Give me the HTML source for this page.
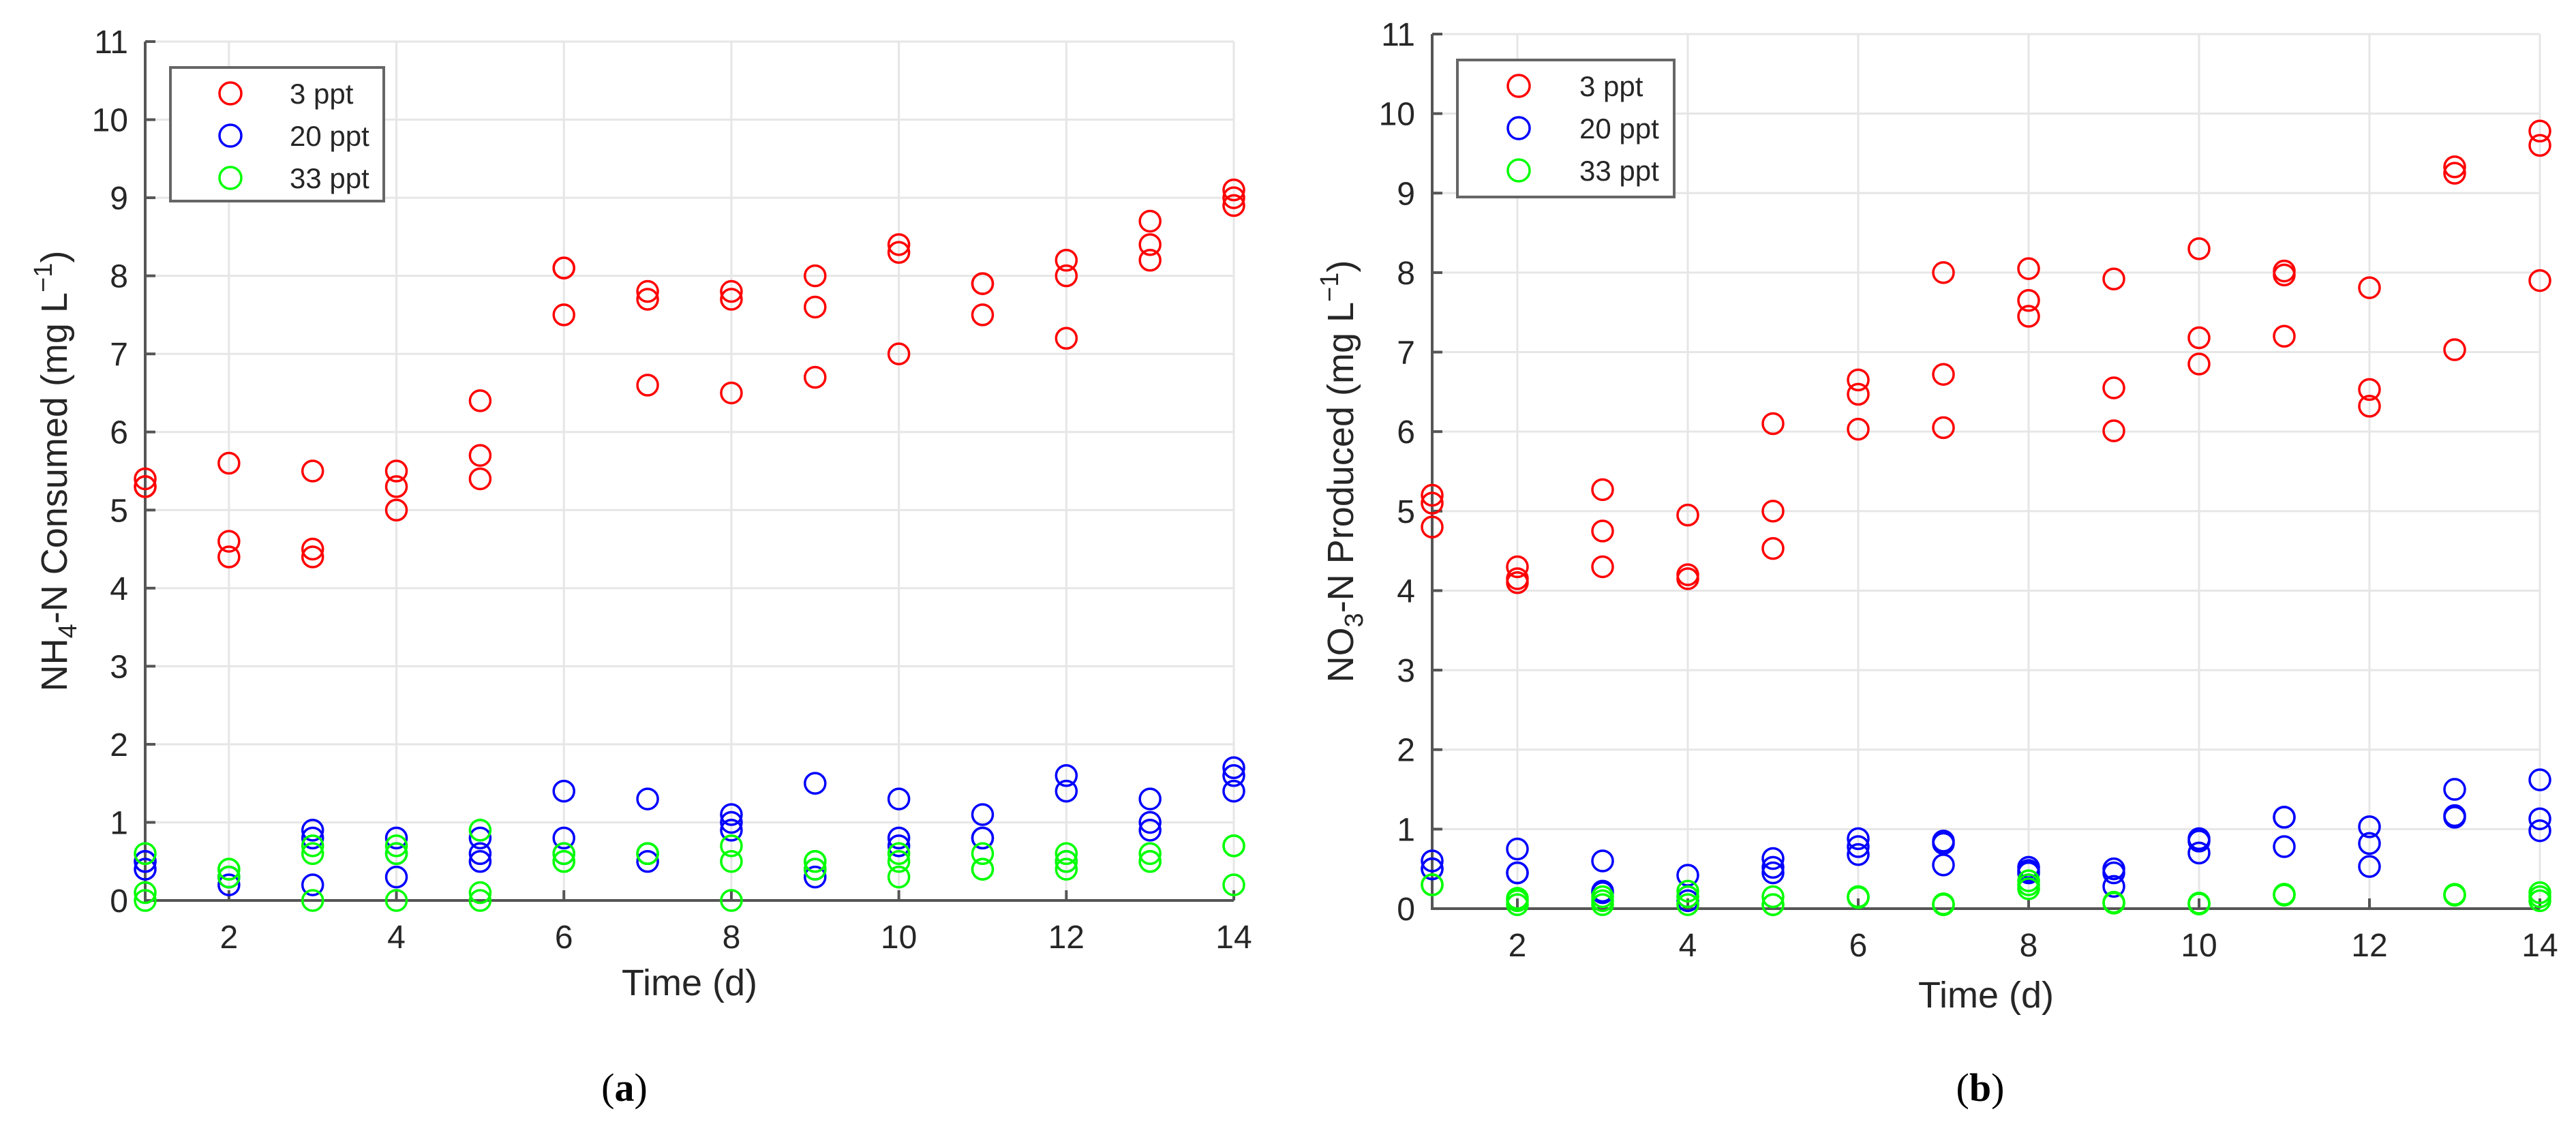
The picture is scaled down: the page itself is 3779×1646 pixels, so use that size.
<!DOCTYPE html>
<html><head><meta charset="utf-8">
<style>
html,body{margin:0;padding:0;background:#fff;}
svg{display:block;}
text{font-family:"Liberation Sans",sans-serif;fill:#262626;}
</style></head>
<body>
<svg id="fig" width="3779" height="1646" viewBox="0 0 3779 1646" xmlns="http://www.w3.org/2000/svg">
<rect width="3779" height="1646" fill="#fff"/>
<g id="panelA"></g>
<g id="panelB"></g>
<text x="916" y="1615" font-size="58" text-anchor="middle" style="font-family:'Liberation Serif',serif;fill:#000">(<tspan font-weight="bold">a</tspan>)</text>
<text x="2905" y="1615" font-size="58" text-anchor="middle" style="font-family:'Liberation Serif',serif;fill:#000">(<tspan font-weight="bold">b</tspan>)</text>
</svg>
<script>
const days = [1,2,3,4,5,6,7,8,9,10,11,12,13,14];
const xTicks = [2,4,6,8,10,12,14];
const yTicks = [0,1,2,3,4,5,6,7,8,9,10,11];
const seriesNames = ["3 ppt","20 ppt","33 ppt"];
const seriesColors = ["#ff0000","#0000ff","#00ff00"];
// Panel (a): NH4-N consumed, three replicates per day
const a3 = [[5.4,5.3,5.3],[5.6,4.6,4.4],[5.5,4.5,4.4],[5.5,5.3,5.0],[6.4,5.7,5.4],[8.1,8.1,7.5],[7.8,7.7,6.6],[7.8,7.7,6.5],[8.0,7.6,6.7],[8.4,8.3,7.0],[7.9,7.9,7.5],[8.2,8.0,7.2],[8.7,8.4,8.2],[9.1,9.0,8.9]];
const a20 = [[0.5,0.5,0.4],[0.3,0.2,0.3],[0.9,0.8,0.2],[0.8,0.6,0.3],[0.8,0.6,0.5],[1.4,0.8,0.6],[1.3,0.6,0.5],[1.1,1.0,0.9],[1.5,0.4,0.3],[1.3,0.8,0.7],[1.1,0.8,0.8],[1.6,1.4,0.5],[1.3,1.0,0.9],[1.7,1.6,1.4]];
const a33 = [[0.6,0.1,0.0],[0.4,0.3,0.4],[0.7,0.6,0.0],[0.7,0.6,0.0],[0.9,0.1,0.0],[0.6,0.5,0.5],[0.6,0.6,0.6],[0.7,0.5,0.0],[0.5,0.4,0.5],[0.6,0.5,0.3],[0.6,0.4,0.4],[0.6,0.5,0.4],[0.6,0.5,0.5],[0.7,0.7,0.2]];
// Panel (b): NO3-N produced
const b3 = [[5.2,5.1,4.8],[4.3,4.15,4.1],[5.27,4.75,4.3],[4.95,4.2,4.15],[6.1,5.0,4.53],[6.65,6.47,6.03],[8.0,6.72,6.05],[8.05,7.65,7.45],[7.92,6.55,6.01],[8.3,7.18,6.85],[8.02,7.97,7.2],[7.81,6.53,6.32],[9.33,9.25,7.03],[9.78,9.6,7.9]];
const b20 = [[0.6,0.5,0.5],[0.75,0.45,0.45],[0.6,0.22,0.2],[0.42,0.15,0.1],[0.63,0.52,0.45],[0.88,0.78,0.68],[0.85,0.82,0.55],[0.52,0.48,0.45],[0.5,0.45,0.28],[0.88,0.85,0.7],[1.15,1.15,0.78],[1.03,0.82,0.53],[1.5,1.17,1.15],[1.62,1.13,0.98]];
const b33 = [[0.3,0.3,0.3],[0.13,0.05,0.1],[0.15,0.05,0.1],[0.22,0.15,0.05],[0.15,0.05,0.05],[0.15,0.15,0.14],[0.06,0.05,0.05],[0.35,0.3,0.25],[0.08,0.07,0.07],[0.07,0.06,0.06],[0.18,0.17,0.18],[],[0.18,0.17,0.17],[0.2,0.1,0.15]];

const NS="http://www.w3.org/2000/svg";
function mk(tag, attrs, parent){const e=document.createElementNS(NS,tag);for(const k in attrs)e.setAttribute(k,attrs[k]);parent.appendChild(e);return e;}

function drawPanel(g, cfg, series){
  const sx=v=>cfg.x0+(v-1)*(cfg.x1-cfg.x0)/13;
  const sy=v=>cfg.y0-(v)*(cfg.y0-cfg.y11)/11;
  // grid
  yTicks.forEach(t=>{const l=mk('line',{x1:sx(1),x2:sx(14),y1:sy(t),y2:sy(t),stroke:'#e6e6e6','stroke-width':3},g);
    
    });
  xTicks.forEach(t=>{const l=mk('line',{x1:sx(t),x2:sx(t),y1:sy(0),y2:sy(11),stroke:'#e6e6e6','stroke-width':3},g);
    
    });
  // axes
  const ax=mk('path',{d:`M${sx(1)},${sy(11)} L${sx(1)},${sy(0)} L${sx(14)},${sy(0)}`,fill:'none',stroke:'#555','stroke-width':4},g);
  
  
  yTicks.forEach(t=>{mk('line',{x1:sx(1),x2:sx(1)+15,y1:sy(t),y2:sy(t),stroke:'#555','stroke-width':4},g);
    const tx=mk('text',{x:sx(1)-25,y:sy(t)+17,'font-size':48,'text-anchor':'end'},g);tx.textContent=t;
    
    });
  xTicks.forEach(t=>{mk('line',{x1:sx(t),x2:sx(t),y1:sy(0),y2:sy(0)-15,stroke:'#555','stroke-width':4},g);
    const tx=mk('text',{x:sx(t),y:sy(0)+70,'font-size':48,'text-anchor':'middle'},g);tx.textContent=t;
    
    });
  // points
  series.forEach((s,si)=>{s.forEach((reps,di)=>{reps.forEach(v=>{
    const c=mk('circle',{cx:sx(days[di]),cy:sy(v),r:15,fill:'none',stroke:seriesColors[si],'stroke-width':3.5},g);
    
    });});});
  // titles
  const xt=mk('text',{x:(sx(1)+sx(14))/2,y:cfg.xtY,'font-size':54,'text-anchor':'middle'},g);xt.textContent='Time (d)';
  
  
  const yt=mk('text',{transform:`translate(${cfg.ytX},${(sy(0)+sy(11))/2}) rotate(-90)`,'font-size':54,'text-anchor':'middle'},g);
  yt.innerHTML=cfg.ytitle;
  
  
  // legend
  const L=cfg.leg;
  const lb=mk('rect',{x:L.x,y:L.y,width:L.w,height:L.h,fill:'#fff',stroke:'#666','stroke-width':4},g);
  
  
  seriesNames.forEach((n,i)=>{const cy=L.y+38+i*62;
    const m=mk('circle',{cx:L.mx,cy:cy,r:16,fill:'none',stroke:seriesColors[i],'stroke-width':3.5},g);
    
    
    const t=mk('text',{x:L.tx,y:cy+15,'font-size':42},g);t.textContent=n;
    
    });
}
drawPanel(document.getElementById('panelA'),
  {x0:213,x1:1810,y0:1321,y11:61,xtY:1460,ytX:98,
   ytitle:'NH<tspan font-size="38" dy="14">4</tspan><tspan dy="-14">-N Consumed (mg L</tspan><tspan font-size="38" dy="-22">−1</tspan><tspan dy="22">)</tspan>',
   leg:{x:250,y:99,w:313,h:196,mx:338,tx:425}},[a3,a20,a33]);
drawPanel(document.getElementById('panelB'),
  {x0:2101,x1:3726,y0:1333,y11:50,xtY:1478,ytX:1985,
   ytitle:'NO<tspan font-size="38" dy="14">3</tspan><tspan dy="-14">-N Produced (mg L</tspan><tspan font-size="38" dy="-22">−1</tspan><tspan dy="22">)</tspan>',
   leg:{x:2138,y:88,w:318,h:201,mx:2228,tx:2317}},[b3,b20,b33]);
</script>
</body></html>
